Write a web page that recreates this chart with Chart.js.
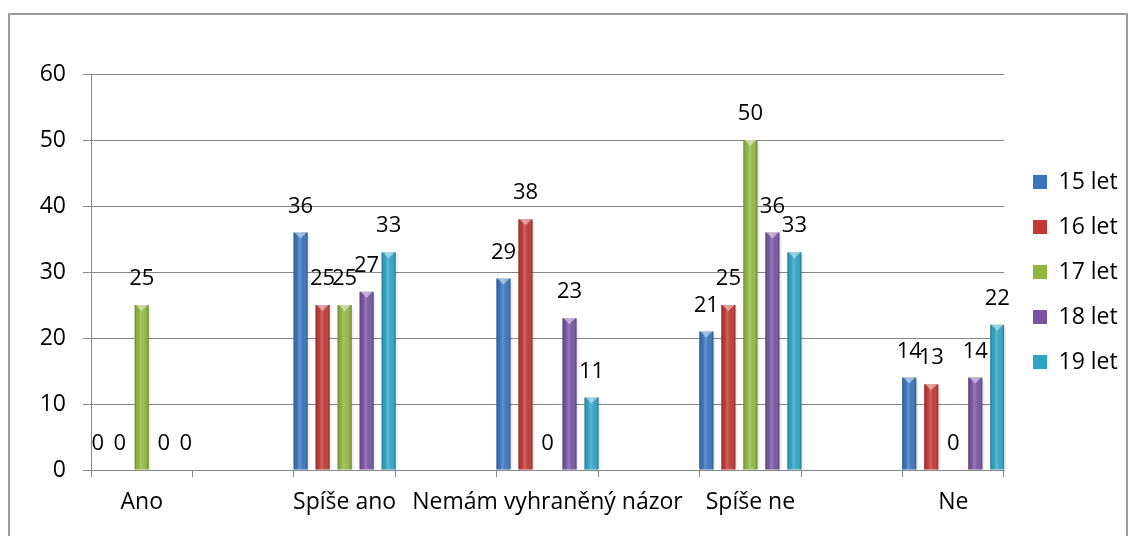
<!DOCTYPE html>
<html>
<head>
<meta charset="utf-8">
<script src="https://cdn.jsdelivr.net/npm/chart.js@4.4.0/dist/chart.umd.min.js"></script>
<style>
  html, body { margin: 0; padding: 0; background: #fff; }
  #wrap { position: relative; width: 1131px; height: 536px; overflow: hidden; }
  #frame { position: absolute; left: 8px; top: 13px; width: 1120px; height: 560px; border: 2px solid #9a9a9a; box-sizing: border-box; }
  #chart { position: absolute; left: 0; top: 0; }
</style>
</head>
<body>
<div id="wrap">
  <div id="frame"></div>
  <canvas id="chart" width="1131" height="536"></canvas>
</div>
<script>
// answers; in the original sheet an empty column sits between each of them
const answers = ["Ano", "Spíše ano", "Nemám vyhraněný názor", "Spíše ne", "Ne"];
const seriesNames = ["15 let", "16 let", "17 let", "18 let", "19 let"];
const age15 = [0, 36, 29, 21, 14];
const age16 = [0, 25, 38, 25, 13];
const age17 = [25, 25, 0, 50, 0];
const age18 = [0, 27, 23, 36, 14];
const age19 = [0, 33, 11, 33, 22];
const yTicks = [0, 10, 20, 30, 40, 50, 60];

const colors = ["#3a74bd", "#c13937", "#91b741", "#7855a3", "#30a4c5"];

// put an empty slot between the answers, like the source chart
function spread(arr, blank) {
    const out = [];
    arr.forEach(function (v, i) {
        if (i > 0) out.push(blank);
        out.push(v);
    });
    return out;
}

const labels = spread(answers, "");
const allSeries = [age15, age16, age17, age18, age19];

const PLOT_RIGHT = 1004;
const FONT = '"Open Sans", "DejaVu Sans", sans-serif';

// shading, bevel cap and value labels on the bars
const barDecor = {
    id: "barDecor",
    beforeDraw(chart) {
        // legend sits next to the plot, centred on the plot height
        chart.legend.left = chart.chartArea.right + 7;
        chart.legend.bottom = chart.chartArea.bottom;
    },
    afterDatasetsDraw(chart) {
        const ctx = chart.ctx;
        ctx.save();
        chart.data.datasets.forEach(function (ds, i) {
            chart.getDatasetMeta(i).data.forEach(function (bar, j) {
                const v = ds.data[j];
                if (v === null) return;
                const left = bar.x - bar.width / 2;
                const right = bar.x + bar.width / 2;
                const top = bar.y;
                const bottom = bar.base;
                if (bottom - top > 1) {
                    const g = ctx.createLinearGradient(left, 0, right, 0);
                    g.addColorStop(0, "rgba(0,0,0,0.30)");
                    g.addColorStop(0.15, "rgba(0,0,0,0.02)");
                    g.addColorStop(0.4, "rgba(255,255,255,0.22)");
                    g.addColorStop(0.7, "rgba(255,255,255,0.02)");
                    g.addColorStop(1, "rgba(0,0,0,0.32)");
                    ctx.fillStyle = g;
                    ctx.fillRect(left, top, right - left, bottom - top);
                    // bevel cap
                    ctx.beginPath();
                    ctx.moveTo(left + 1, top);
                    ctx.lineTo(right - 1, top);
                    ctx.lineTo(bar.x, top + 6);
                    ctx.closePath();
                    ctx.fillStyle = "rgba(255,255,255,0.45)";
                    ctx.fill();
                    // soft shadow on the right
                    ctx.fillStyle = "rgba(0,0,0,0.07)";
                    ctx.fillRect(right, top + 3, 2, bottom - top - 3);
                }
                ctx.font = "22px " + FONT;
                ctx.fillStyle = "#000";
                ctx.textAlign = "center";
                ctx.textBaseline = "middle";
                ctx.fillText(String(v), bar.x, top - 26);
            });
        });
        ctx.restore();
    }
};

const ctx = document.getElementById("chart").getContext("2d");
const chart = new Chart(ctx, {
    type: "bar",
    data: {
        labels: labels,
        datasets: seriesNames.map(function (name, i) {
            return {
                label: name,
                data: spread(allSeries[i], null),
                backgroundColor: colors[i],
                borderWidth: 0,
                categoryPercentage: 1.085,
                barPercentage: 0.64
            };
        })
    },
    options: {
        responsive: false,
        animation: false,
        layout: { padding: { top: 74, left: 0, bottom: 0, right: 0 } },
        plugins: {
            tooltip: { enabled: false },
            legend: {
                position: "right",
                align: "center",
                labels: {
                    color: "#000",
                    font: { family: FONT, size: 23 },
                    boxWidth: 14,
                    boxHeight: 14,
                    padding: 22
                }
            }
        },
        scales: {
            x: {
                grid: {
                    offset: true,
                    drawOnChartArea: false,
                    drawTicks: true,
                    tickLength: 7,
                    color: "#868686"
                },
                border: { color: "#868686" },
                ticks: {
                    color: "#000",
                    font: { family: FONT, size: 23 },
                    padding: 12,
                    maxRotation: 0,
                    autoSkip: false
                },
                afterFit(scale) { scale.height = 66; }
            },
            y: {
                min: yTicks[0],
                max: yTicks[yTicks.length - 1],
                afterBuildTicks(scale) {
                    scale.ticks = yTicks.map(function (v) { return { value: v }; });
                },
                grid: {
                    color: "#868686",
                    tickLength: 8
                },
                border: { color: "#868686" },
                ticks: {
                    color: "#000",
                    font: { family: FONT, size: 23 },
                    padding: 17
                },
                afterFit(scale) { scale.width = 91; }
            }
        }
    },
    plugins: [barDecor]
});

// make the plot end where the original one ends
chart.options.layout.padding.right = Math.max(0, chart.width - PLOT_RIGHT - chart.legend.width);
chart.update();
</script>
</body>
</html>
